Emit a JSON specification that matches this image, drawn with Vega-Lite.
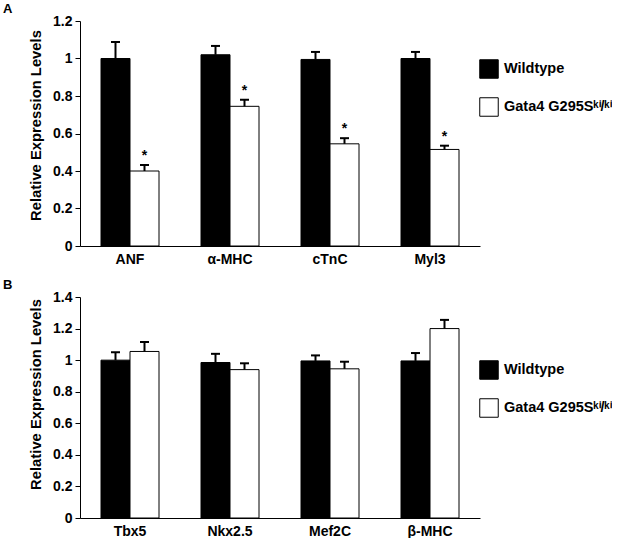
{
  "$schema": "https://vega.github.io/schema/vega-lite/v6.json",
  "padding": {"left": 3, "top": 3, "right": 0, "bottom": 0},
  "spacing": 13,
  "config": {
    "font": "Liberation Sans",
    "view": {"stroke": null},
    "axis": {"domainColor": "black", "tickColor": "black", "labelColor": "black", "titleColor": "black", "labelFont": "Liberation Sans", "titleFont": "Liberation Sans", "labelFontWeight": "bold", "titleFontWeight": "bold", "grid": false, "labelFontSize": 14, "titleFontSize": 14, "labelOverlap": false},
    "axisY": {"titleFontSize": 14.8},
    "legend": {"labelFont": "Liberation Sans", "labelFontWeight": "bold", "labelFontSize": 14.5, "labelColor": "black"},
    "title": {"font": "Liberation Sans", "fontWeight": "bold", "fontSize": 13, "color": "black"}
  },
  "datasets": {
    "a": [
      {"gene": "ANF", "genotype": "Wildtype", "value": 1.0, "err": 1.088, "sig": ""},
      {"gene": "ANF", "genotype": "Gata4 G295Sᵏⁱ/ᵏⁱ", "value": 0.40, "err": 0.432, "sig": "*"},
      {"gene": "α-MHC", "genotype": "Wildtype", "value": 1.02, "err": 1.067, "sig": ""},
      {"gene": "α-MHC", "genotype": "Gata4 G295Sᵏⁱ/ᵏⁱ", "value": 0.745, "err": 0.78, "sig": "*"},
      {"gene": "cTnC", "genotype": "Wildtype", "value": 0.995, "err": 1.035, "sig": ""},
      {"gene": "cTnC", "genotype": "Gata4 G295Sᵏⁱ/ᵏⁱ", "value": 0.545, "err": 0.575, "sig": "*"},
      {"gene": "Myl3", "genotype": "Wildtype", "value": 1.0, "err": 1.035, "sig": ""},
      {"gene": "Myl3", "genotype": "Gata4 G295Sᵏⁱ/ᵏⁱ", "value": 0.515, "err": 0.535, "sig": "*"}
    ],
    "b": [
      {"gene": "Tbx5", "genotype": "Wildtype", "value": 1.0, "err": 1.05},
      {"gene": "Tbx5", "genotype": "Gata4 G295Sᵏⁱ/ᵏⁱ", "value": 1.055, "err": 1.115},
      {"gene": "Nkx2.5", "genotype": "Wildtype", "value": 0.985, "err": 1.04},
      {"gene": "Nkx2.5", "genotype": "Gata4 G295Sᵏⁱ/ᵏⁱ", "value": 0.94, "err": 0.98},
      {"gene": "Mef2C", "genotype": "Wildtype", "value": 0.995, "err": 1.03},
      {"gene": "Mef2C", "genotype": "Gata4 G295Sᵏⁱ/ᵏⁱ", "value": 0.945, "err": 0.99},
      {"gene": "β-MHC", "genotype": "Wildtype", "value": 0.995, "err": 1.045},
      {"gene": "β-MHC", "genotype": "Gata4 G295Sᵏⁱ/ᵏⁱ", "value": 1.2, "err": 1.255}
    ]
  },
  "vconcat": [
    {
      "title": {"text": "A", "anchor": "start", "frame": "group", "dx": -77, "offset": -2},
      "width": 400,
      "height": 225,
      "data": {"name": "a"},
      "encoding": {
        "x": {"field": "gene", "type": "nominal", "sort": null, "scale": {"paddingInner": 0.42, "paddingOuter": 0.21}, "axis": {"title": null, "labelAngle": 0, "ticks": false, "labelPadding": 6}},
        "xOffset": {"field": "genotype", "type": "nominal", "sort": null, "scale": {"paddingInner": 0, "paddingOuter": 0}}
      },
      "layer": [
        {
          "mark": {"type": "bar", "stroke": "black", "strokeWidth": 1},
          "encoding": {
            "y": {"field": "value", "type": "quantitative", "title": "Relative Expression Levels", "scale": {"domain": [0, 1.2]}, "axis": {"values": [0, 0.2, 0.4, 0.6, 0.8, 1, 1.2], "format": "~g", "tickSize": 5, "labelPadding": 3, "titlePadding": 9, "labelOverlap": false, "labelFlush": false, "tickCount": 7, "titleY": 104}},
            "color": {"field": "genotype", "type": "nominal", "sort": null, "scale": {"domain": ["Wildtype", "Gata4 G295Sᵏⁱ/ᵏⁱ"], "range": ["black", "white"]}, "legend": {"title": null, "orient": "none", "legendX": 399, "legendY": 38, "symbolType": "square", "symbolSize": 342, "symbolStrokeColor": "black", "symbolStrokeWidth": 1, "symbolOpacity": 1, "rowPadding": 14, "labelOffset": 5, "labelLimit": 0, "padding": 0}}
          }
        },
        {
          "mark": {"type": "rule", "color": "black", "strokeWidth": 2},
          "encoding": {
            "y": {"field": "value", "type": "quantitative", "title": "Relative Expression Levels", "axis": {"values": [0, 0.2, 0.4, 0.6, 0.8, 1, 1.2], "format": "~g", "tickSize": 5, "labelPadding": 3, "titlePadding": 9, "labelOverlap": false, "labelFlush": false, "tickCount": 7, "titleY": 104}},
            "y2": {"field": "err"}
          }
        },
        {
          "mark": {"type": "tick", "color": "black", "size": 9, "thickness": 2, "opacity": 1},
          "encoding": {
            "y": {"field": "err", "type": "quantitative", "title": "Relative Expression Levels", "axis": {"values": [0, 0.2, 0.4, 0.6, 0.8, 1, 1.2], "format": "~g", "tickSize": 5, "labelPadding": 3, "titlePadding": 9, "labelOverlap": false, "labelFlush": false, "tickCount": 7, "titleY": 104}}
          }
        },
        {
          "mark": {"type": "text", "color": "black", "fontSize": 14, "fontWeight": "bold", "dy": -9},
          "encoding": {
            "y": {"field": "err", "type": "quantitative", "title": "Relative Expression Levels", "axis": {"values": [0, 0.2, 0.4, 0.6, 0.8, 1, 1.2], "format": "~g", "tickSize": 5, "labelPadding": 3, "titlePadding": 9, "labelOverlap": false, "labelFlush": false, "tickCount": 7, "titleY": 104}},
            "text": {"field": "sig"}
          }
        }
      ]
    },
    {
      "title": {"text": "B", "anchor": "start", "frame": "group", "dx": -77, "offset": -2},
      "width": 400,
      "height": 221,
      "data": {"name": "b"},
      "encoding": {
        "x": {"field": "gene", "type": "nominal", "sort": null, "scale": {"paddingInner": 0.42, "paddingOuter": 0.21}, "axis": {"title": null, "labelAngle": 0, "ticks": false, "labelPadding": 6}},
        "xOffset": {"field": "genotype", "type": "nominal", "sort": null, "scale": {"paddingInner": 0, "paddingOuter": 0}}
      },
      "layer": [
        {
          "mark": {"type": "bar", "stroke": "black", "strokeWidth": 1},
          "encoding": {
            "y": {"field": "value", "type": "quantitative", "title": "Relative Expression Levels", "scale": {"domain": [0, 1.4]}, "axis": {"values": [0, 0.2, 0.4, 0.6, 0.8, 1, 1.2, 1.4], "format": "~g", "tickSize": 5, "labelPadding": 3, "titlePadding": 9, "labelOverlap": false, "labelFlush": false, "tickCount": 8, "titleY": 97}},
            "color": {"field": "genotype", "type": "nominal", "sort": null, "scale": {"domain": ["Wildtype", "Gata4 G295Sᵏⁱ/ᵏⁱ"], "range": ["black", "white"]}, "legend": {"title": null, "orient": "none", "legendX": 399, "legendY": 63, "symbolType": "square", "symbolSize": 342, "symbolStrokeColor": "black", "symbolStrokeWidth": 1, "symbolOpacity": 1, "rowPadding": 14, "labelOffset": 5, "labelLimit": 0, "padding": 0}}
          }
        },
        {
          "mark": {"type": "rule", "color": "black", "strokeWidth": 2},
          "encoding": {
            "y": {"field": "value", "type": "quantitative", "title": "Relative Expression Levels", "axis": {"values": [0, 0.2, 0.4, 0.6, 0.8, 1, 1.2, 1.4], "format": "~g", "tickSize": 5, "labelPadding": 3, "titlePadding": 9, "labelOverlap": false, "labelFlush": false, "tickCount": 8, "titleY": 97}},
            "y2": {"field": "err"}
          }
        },
        {
          "mark": {"type": "tick", "color": "black", "size": 9, "thickness": 2, "opacity": 1},
          "encoding": {
            "y": {"field": "err", "type": "quantitative", "title": "Relative Expression Levels", "axis": {"values": [0, 0.2, 0.4, 0.6, 0.8, 1, 1.2, 1.4], "format": "~g", "tickSize": 5, "labelPadding": 3, "titlePadding": 9, "labelOverlap": false, "labelFlush": false, "tickCount": 8, "titleY": 97}}
          }
        }
      ]
    }
  ],
  "resolve": {"scale": {"color": "independent"}}
}
